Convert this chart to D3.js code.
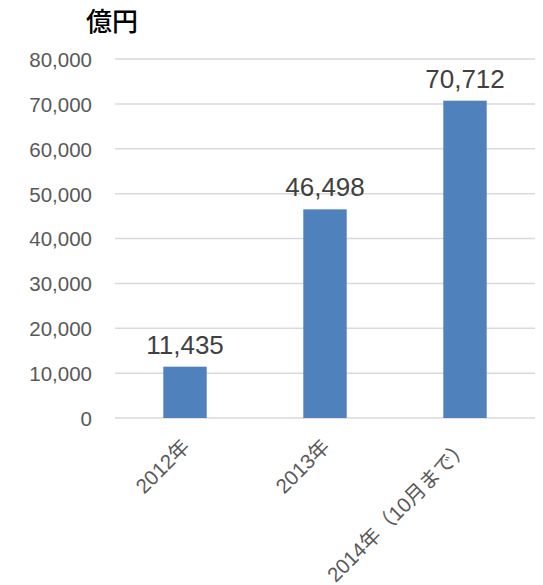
<!DOCTYPE html>
<html>
<head>
<meta charset="utf-8">
<script src="https://cdn.jsdelivr.net/npm/d3@7"></script>
<style>
  body { margin: 0; background: #fff; }
  text { font-family: "Liberation Sans", "Noto Sans CJK JP", sans-serif; }
</style>
</head>
<body>
<svg width="543" height="585"></svg>
<script>
// data
const categories = ["2012年", "2013年", "2014年（10月まで）"];
const values = [11435, 46498, 70712];
const yTicks = [0, 10000, 20000, 30000, 40000, 50000, 60000, 70000, 80000];
const unitLabel = "億円";

let svg = d3.select("svg");

const plotLeft = 115, plotRight = 535, plotTop = 59, plotBottom = 418;

let x = d3.scaleBand().domain(categories).range([plotLeft, plotRight]).padding(0);
let y = d3.scaleLinear().domain([0, 80000]).range([plotBottom, plotTop]);
const fmt = d3.format(",");
const barW = x.bandwidth() * 0.31;

// gridlines
svg.append("g")
    .attr("class", "grid")
    .selectAll("line")
    .data(yTicks)
    .enter().append("line")
    .attr("x1", plotLeft).attr("x2", plotRight)
    .attr("y1", d => y(d)).attr("y2", d => y(d))
    .attr("stroke", "#d9d9d9")
    .attr("stroke-width", 1.5);

// y axis labels
let yAxis = svg.append("g")
    .attr("transform", `translate(${plotLeft - 23},0)`)
    .call(d3.axisLeft(y).tickValues(yTicks).tickFormat(fmt).tickSize(0).tickPadding(0));
yAxis.select(".domain").remove();
yAxis.selectAll("text")
    .attr("font-family", "Liberation Sans, sans-serif")
    .attr("font-size", 20.5)
    .attr("fill", "#595959")
    .attr("dy", "0.36em");

// bars
svg.append("g")
    .selectAll("rect")
    .data(values)
    .enter().append("rect")
    .attr("x", (d, i) => x(categories[i]) + x.bandwidth() / 2 - barW / 2)
    .attr("y", d => y(d))
    .attr("width", barW)
    .attr("height", d => y(0) - y(d))
    .attr("fill", "#4f81bd");

// value labels
svg.append("g")
    .selectAll("text")
    .data(values)
    .enter().append("text")
    .attr("x", (d, i) => x(categories[i]) + x.bandwidth() / 2)
    .attr("y", d => y(d) - 13)
    .attr("text-anchor", "middle")
    .attr("font-size", 26)
    .attr("fill", "#404040")
    .text(d => fmt(d));

// x axis labels, rotated
let xAxis = svg.append("g")
    .attr("transform", `translate(0,${plotBottom})`)
    .call(d3.axisBottom(x).tickSize(0).tickPadding(0));
xAxis.select(".domain").remove();
xAxis.selectAll("text")
    .attr("font-family", "Liberation Sans, Noto Sans CJK JP, sans-serif")
    .attr("font-size", 20.5)
    .attr("fill", "#595959")
    .attr("text-anchor", "end")
    .attr("dy", 0)
    .attr("y", 0)
    .attr("transform", "translate(6,30) rotate(-45)");

// unit title
svg.append("text")
    .attr("x", 86)
    .attr("y", 31)
    .attr("font-family", "Noto Sans CJK JP, sans-serif")
    .attr("font-size", 26)
    .attr("font-weight", 500)
    .attr("fill", "#000")
    .text(unitLabel);
</script>
</body>
</html>
